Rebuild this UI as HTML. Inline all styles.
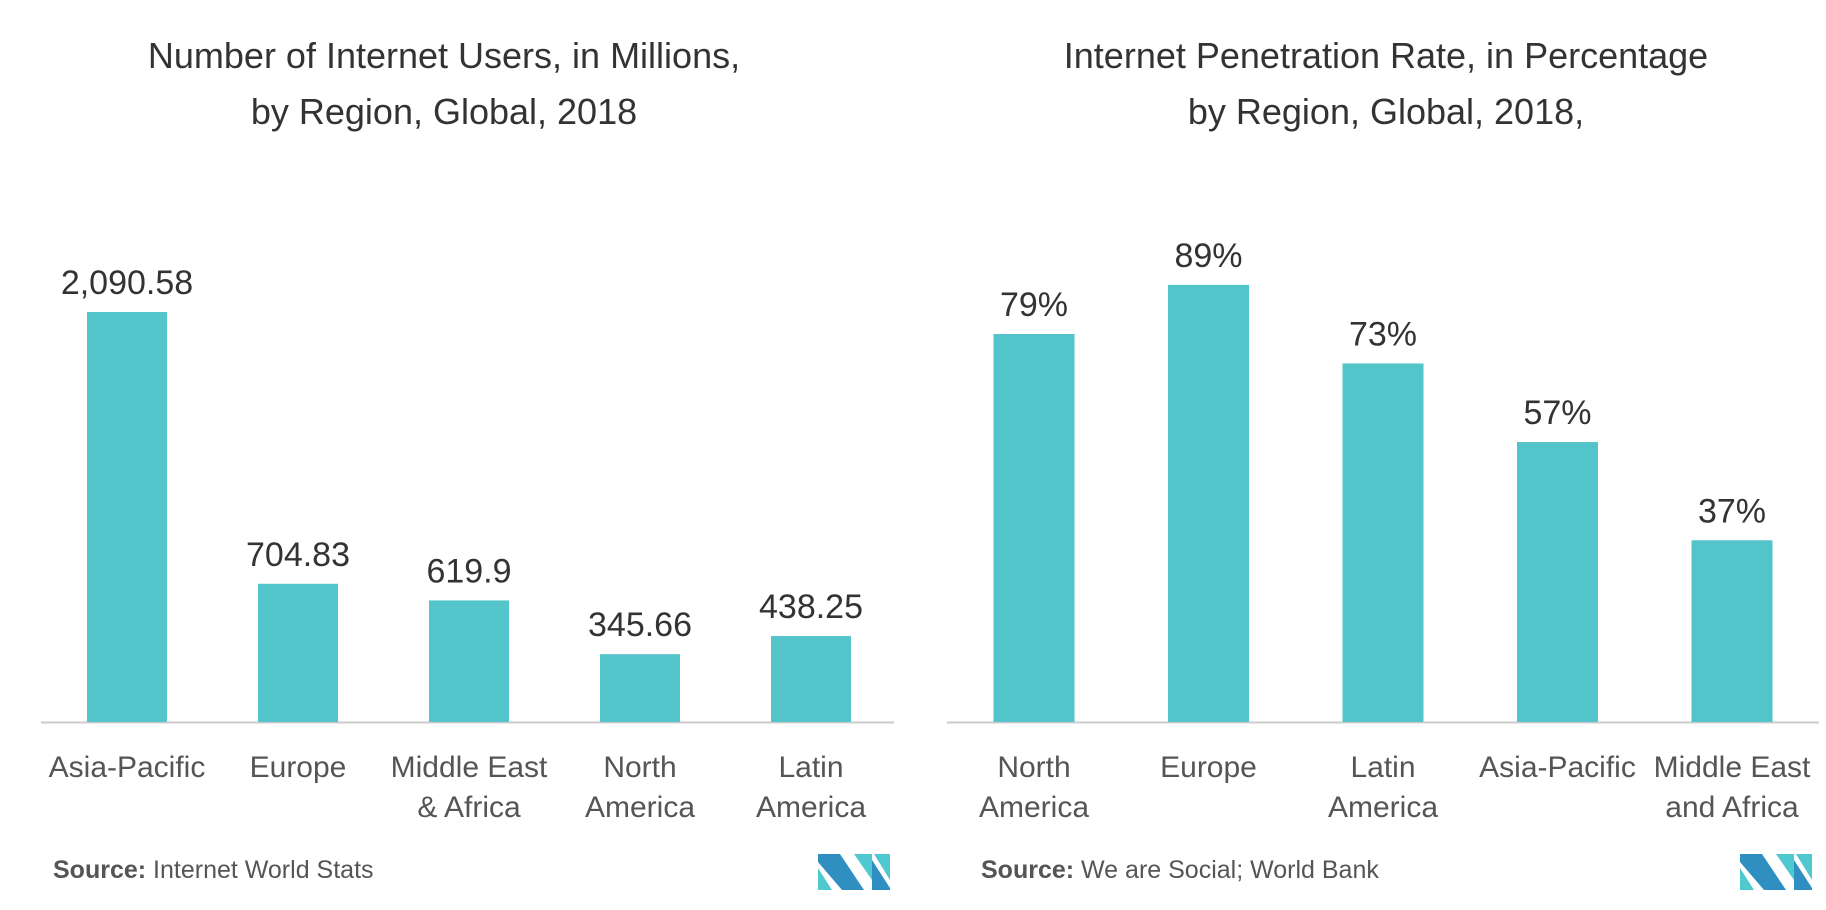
<!DOCTYPE html>
<html><head><meta charset="utf-8"><style>
body{margin:0;background:#fff;}
svg text{font-family:"Liberation Sans",sans-serif;}
</style></head><body>
<svg id="c" width="1826" height="905" xmlns="http://www.w3.org/2000/svg">
<text x="444" y="68" text-anchor="middle" font-size="36" fill="#333">Number of Internet Users, in Millions,</text>
<text x="444" y="124" text-anchor="middle" font-size="36" fill="#333">by Region, Global, 2018</text>
<text x="1386" y="68" text-anchor="middle" font-size="36" fill="#333">Internet Penetration Rate, in Percentage</text>
<text x="1386" y="124" text-anchor="middle" font-size="36" fill="#333">by Region, Global, 2018,</text>
<line x1="41" y1="722.5" x2="894" y2="722.5" stroke="#ccc" stroke-width="2"/>
<line x1="947" y1="722.5" x2="1819" y2="722.5" stroke="#ccc" stroke-width="2"/>
<g id="lb"></g><g id="rb"></g>
<text x="53" y="878" font-size="25" fill="#555"><tspan font-weight="bold">Source:</tspan> Internet World Stats</text>
<text x="981" y="878" font-size="25" fill="#555"><tspan font-weight="bold">Source:</tspan> We are Social; World Bank</text>
<g transform="translate(818,854)">
<polygon points="0,0 22,0 46,36 24,36 0,8" fill="#2E8FC0"/><polygon points="0,14 0,36 14,36" fill="#4FC9CF"/>
<polygon points="36,0 54,0 54,26" fill="#4FC9CF"/><polygon points="54,6 72,34 72,36 54,36" fill="#2E8FC0"/><polygon points="56,0 72,0 72,26" fill="#4FC9CF"/>
</g>
<g transform="translate(1740,854)">
<polygon points="0,0 22,0 46,36 24,36 0,8" fill="#2E8FC0"/><polygon points="0,14 0,36 14,36" fill="#4FC9CF"/>
<polygon points="36,0 54,0 54,26" fill="#4FC9CF"/><polygon points="54,6 72,34 72,36 54,36" fill="#2E8FC0"/><polygon points="56,0 72,0 72,26" fill="#4FC9CF"/>
</g>
</svg>
<script>
const leftCats=[["Asia-Pacific"],["Europe"],["Middle East","& Africa"],["North","America"],["Latin","America"]];
const leftVals=[2090.58,704.83,619.9,345.66,438.25];
const leftLabels=["2,090.58","704.83","619.9","345.66","438.25"];
const rightCats=[["North","America"],["Europe"],["Latin","America"],["Asia-Pacific"],["Middle East","and Africa"]];
const rightVals=[79,89,73,57,37];
const rightLabels=["79%","89%","73%","57%","37%"];
const NS="http://www.w3.org/2000/svg";
function draw(gid,cats,vals,labels,x0,step,bw,scale,prefix){
  const g=document.getElementById(gid);const base=722;
  vals.forEach((v,i)=>{
    const cx=x0+i*step;const h=v*scale;
    const r=document.createElementNS(NS,'rect');
    r.setAttribute('x',cx-bw/2);r.setAttribute('y',base-h);r.setAttribute('width',bw);r.setAttribute('height',h);r.setAttribute('fill','#52C4CA');
    
    
    g.appendChild(r);
    const t=document.createElementNS(NS,'text');
    t.setAttribute('x',cx);t.setAttribute('y',base-h-18);t.setAttribute('text-anchor','middle');t.setAttribute('font-size','34');t.setAttribute('fill','#333');
    t.textContent=labels[i];
    
    
    g.appendChild(t);
    cats[i].forEach((ln,j)=>{
      const c=document.createElementNS(NS,'text');
      c.setAttribute('x',cx);c.setAttribute('y',777+j*40);c.setAttribute('text-anchor','middle');c.setAttribute('font-size','30');c.setAttribute('fill','#555');
      c.textContent=ln;
      
      
      g.appendChild(c);
    });
  });
}
draw('lb',leftCats,leftVals,leftLabels,127,171,80,410/2090.58,'left');
draw('rb',rightCats,rightVals,rightLabels,1034,174.5,81,388/79,'right');
</script>
</body></html>
